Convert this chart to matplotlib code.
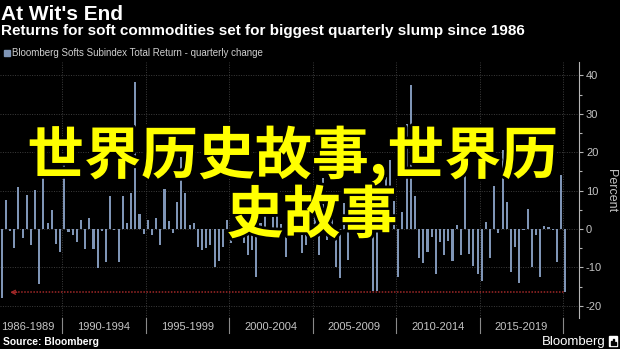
import matplotlib
matplotlib.use("Agg")
import matplotlib.pyplot as plt
import matplotlib.patheffects as pe
import matplotlib.transforms as mtransforms
from matplotlib.patches import Rectangle
import numpy as np

# Bloomberg Softs Subindex total return, quarterly change (%), 1986 Q2 - 2020 Q1
returns = [
    -18.1, 7.6, -0.5, -5.0, 10.9, -2.4, 8.8, -4.2, 10.1, -14.3,
    20.9, 1.5, 4.9, -3.8, -6.0, 16.9, -0.7, -1.7, -3.5, 2.4,
    -5.3, 2.8, -5.3, -10.3, -0.5, -8.5, 8.6, -0.4, -8.5, 8.6,
    1.6, 9.3, 38.2, 3.9, -1.2, 2.4, -1.7, 2.8, -4.3, 10.5,
    2.1, -1.1, 7.0, 18.7, 9.3, 1.0, 1.5, -4.6, -5.5, -5.0,
    -4.2, -9.8, -8.3, -4.6, 2.3, -3.7, -1.1, -2.4, -3.7, -6.8,
    -5.5, -12.6, 1.5, 5.0, -2.0, 3.0, 5.5, 1.3, -7.3, -1.0,
    -1.5, -0.8, -6.3, -4.2, 2.0, 4.1, -6.8, 13.2, -2.9, 5.4,
    -9.8, -12.9, 6.7, -8.0, 3.0, 6.0, 9.0, 4.0, 10.0, -16.1,
    -16.1, 2.0, 13.6, 18.0, 7.3, -12.4, 4.5, 27.4, 37.5, 8.6,
    -7.5, -8.8, -5.9, -2.0, -11.7, -3.3, -6.8, -3.1, -8.3, 1.0,
    -6.9, 16.0, -6.5, -9.6, -11.8, -13.5, 1.7, -7.5, 11.2, -1.0,
    20.6, 7.0, -11.1, -4.8, -14.2, -0.4, 5.2, -10.0, -1.7, -12.4,
    0.8, 0.4, -0.3, -8.5, 14.1, -16.5,
]
first_year, first_quarter = 1986, 2

period_labels = ["1986-1989", "1990-1994", "1995-1999", "2000-2004",
                 "2005-2009", "2010-2014", "2015-2019"]
period_starts = [1986, 1990, 1995, 2000, 2005, 2010, 2015, 2020]

y_ticks = [-20, -10, 0, 10, 20, 30, 40]

title = "At Wit's End"
subtitle = "Returns for soft commodities set for biggest quarterly slump since 1986"
legend_label = "Bloomberg Softs Subindex Total Return - quarterly change"
overlay_lines = ["世界历史故事,世界历", "史故事"]

BG = "#000000"
BAR = "#7f95b6"
GRID = "#3d3d3d"
AXIS = "#b5b5b5"
TICKTXT = "#c4c4c4"
RED = "#a02828"
NARROW = ["Liberation Sans Narrow", "Liberation Sans", "DejaVu Sans"]
SANS = ["Liberation Sans", "DejaVu Sans"]
CJK = ["Noto Sans CJK SC", "DejaVu Sans"]

W, H = 620, 349
fig = plt.figure(figsize=(W / 100, H / 100), dpi=100, facecolor=BG)


def fx(px):
    return px / W


def fy(py):
    return 1 - py / H


ax_top, ax_bot, ax_right = 62, 318, 579
ax = fig.add_axes([0, fy(ax_bot), fx(ax_right), (ax_bot - ax_top) / H])
ax.set_facecolor(BG)

n = len(returns)
x = np.arange(n)


def boundary(year):
    # position between the last quarter of year-1 and Q1 of year
    return (year - first_year) * 4 - (first_quarter - 1) - 0.5


ax.set_xlim(-0.41, 138.3)
ax.set_ylim(-23.2, 43.5)

# grid
for yv in y_ticks:
    ax.axhline(yv, color=GRID, lw=0.7, ls=(0, (1, 1.5)), zorder=0)
for yr in period_starts[1:]:
    ax.axvline(boundary(yr), color=GRID, lw=0.7, ls=(0, (1, 1.5)), zorder=0)

ax.bar(x, returns, width=0.5, color=BAR, zorder=2)

# reference line at the latest quarter's value, pointing back to 1986
ref = returns[-1]
ax.plot([2.4, n - 1], [ref, ref], color=RED, lw=1.1, ls=(0, (1, 1)), zorder=3)
ax.annotate("", xy=(2.0, ref), xytext=(3.6, ref),
            arrowprops=dict(arrowstyle="->", color=RED, lw=1.0,
                            mutation_scale=7, shrinkA=0, shrinkB=0), zorder=3)

# axes styling
for side in ["top", "left", "bottom"]:
    ax.spines[side].set_visible(False)
ax.spines["right"].set_color(AXIS)
ax.spines["right"].set_linewidth(0.8)
ax.yaxis.tick_right()
ax.set_yticks(y_ticks)
ax.set_yticks(np.arange(-20, 41, 5), minor=True)
ax.set_yticklabels([str(v) for v in y_ticks], family=SANS)
ax.tick_params(axis="y", which="major", direction="out", length=3, width=0.8,
               color=AXIS, labelcolor=TICKTXT, labelsize=8, pad=2)
ax.tick_params(axis="y", which="minor", direction="out", length=2, width=0.8,
               color=AXIS)
ax.set_xticks([])

# period labels and separators under the plot
trans = mtransforms.blended_transform_factory(ax.transData, ax.transAxes)
sep_y0, sep_y1 = 0.0, -15 / (ax_bot - ax_top)
for yr in period_starts[1:]:
    ax.plot([boundary(yr)] * 2, [sep_y0, sep_y1], color="#8a8a8a", lw=0.8,
            transform=trans, clip_on=False)
lab_y = -(327 - ax_bot) / (ax_bot - ax_top)
for i, lab in enumerate(period_labels):
    if i == 0:
        ax.text(-0.2, lab_y, lab, transform=trans, ha="left", va="center",
                color=TICKTXT, fontsize=8, family=SANS)
    else:
        c = 0.5 * (boundary(period_starts[i]) + boundary(period_starts[i + 1]))
        ax.text(c, lab_y, lab, transform=trans, ha="center", va="center",
                color=TICKTXT, fontsize=8, family=SANS)

fig.text(fx(611), fy(191), "Percent", rotation=270, ha="center", va="center",
         color=TICKTXT, fontsize=9, family=SANS)

# header
fig.text(fx(1), fy(20), title, ha="left", va="baseline", color="white",
         fontsize=15, fontweight="bold", family=SANS)
fig.text(fx(1), fy(35), subtitle, ha="left", va="baseline", color="white",
         fontsize=11, fontweight="bold", family=SANS)
fig.patches.append(Rectangle((fx(4), fy(56)), 6 / W, 6 / H, color=BAR,
                             transform=fig.transFigure, figure=fig))
fig.text(fx(12), fy(56), legend_label, ha="left", va="baseline",
         color="#d0d0d0", fontsize=7, family=NARROW)

# footer
fig.text(fx(3), fy(345), "Source: Bloomberg", ha="left", va="baseline",
         color="white", fontsize=7.4, fontweight="bold", family=SANS)
fig.text(fx(606), fy(345), "Bloomberg", ha="right", va="baseline",
         color="white", fontsize=9.5, family=SANS)
fig.patches.append(Rectangle((fx(609), fy(346)), 8 / W, 10 / H, color="white",
                             transform=fig.transFigure, figure=fig))
for bx, bh in [(610.5, 4), (612.5, 6), (614.5, 3)]:
    fig.patches.append(Rectangle((fx(bx), fy(344.5)), 1.2 / W, bh / H,
                                 color="black", transform=fig.transFigure,
                                 figure=fig))

# overlay caption
stroke = [pe.withStroke(linewidth=4, foreground="black")]
fig.text(fx(293), fy(174), overlay_lines[0], ha="center", va="baseline",
         color="#ffff00", fontsize=41, fontweight="bold", family=CJK,
         path_effects=stroke)
fig.text(fx(312), fy(233), overlay_lines[1], ha="center", va="baseline",
         color="#ffff00", fontsize=41, fontweight="bold", family=CJK,
         path_effects=stroke)

fig.savefig("out.png", dpi=100, facecolor=BG)
